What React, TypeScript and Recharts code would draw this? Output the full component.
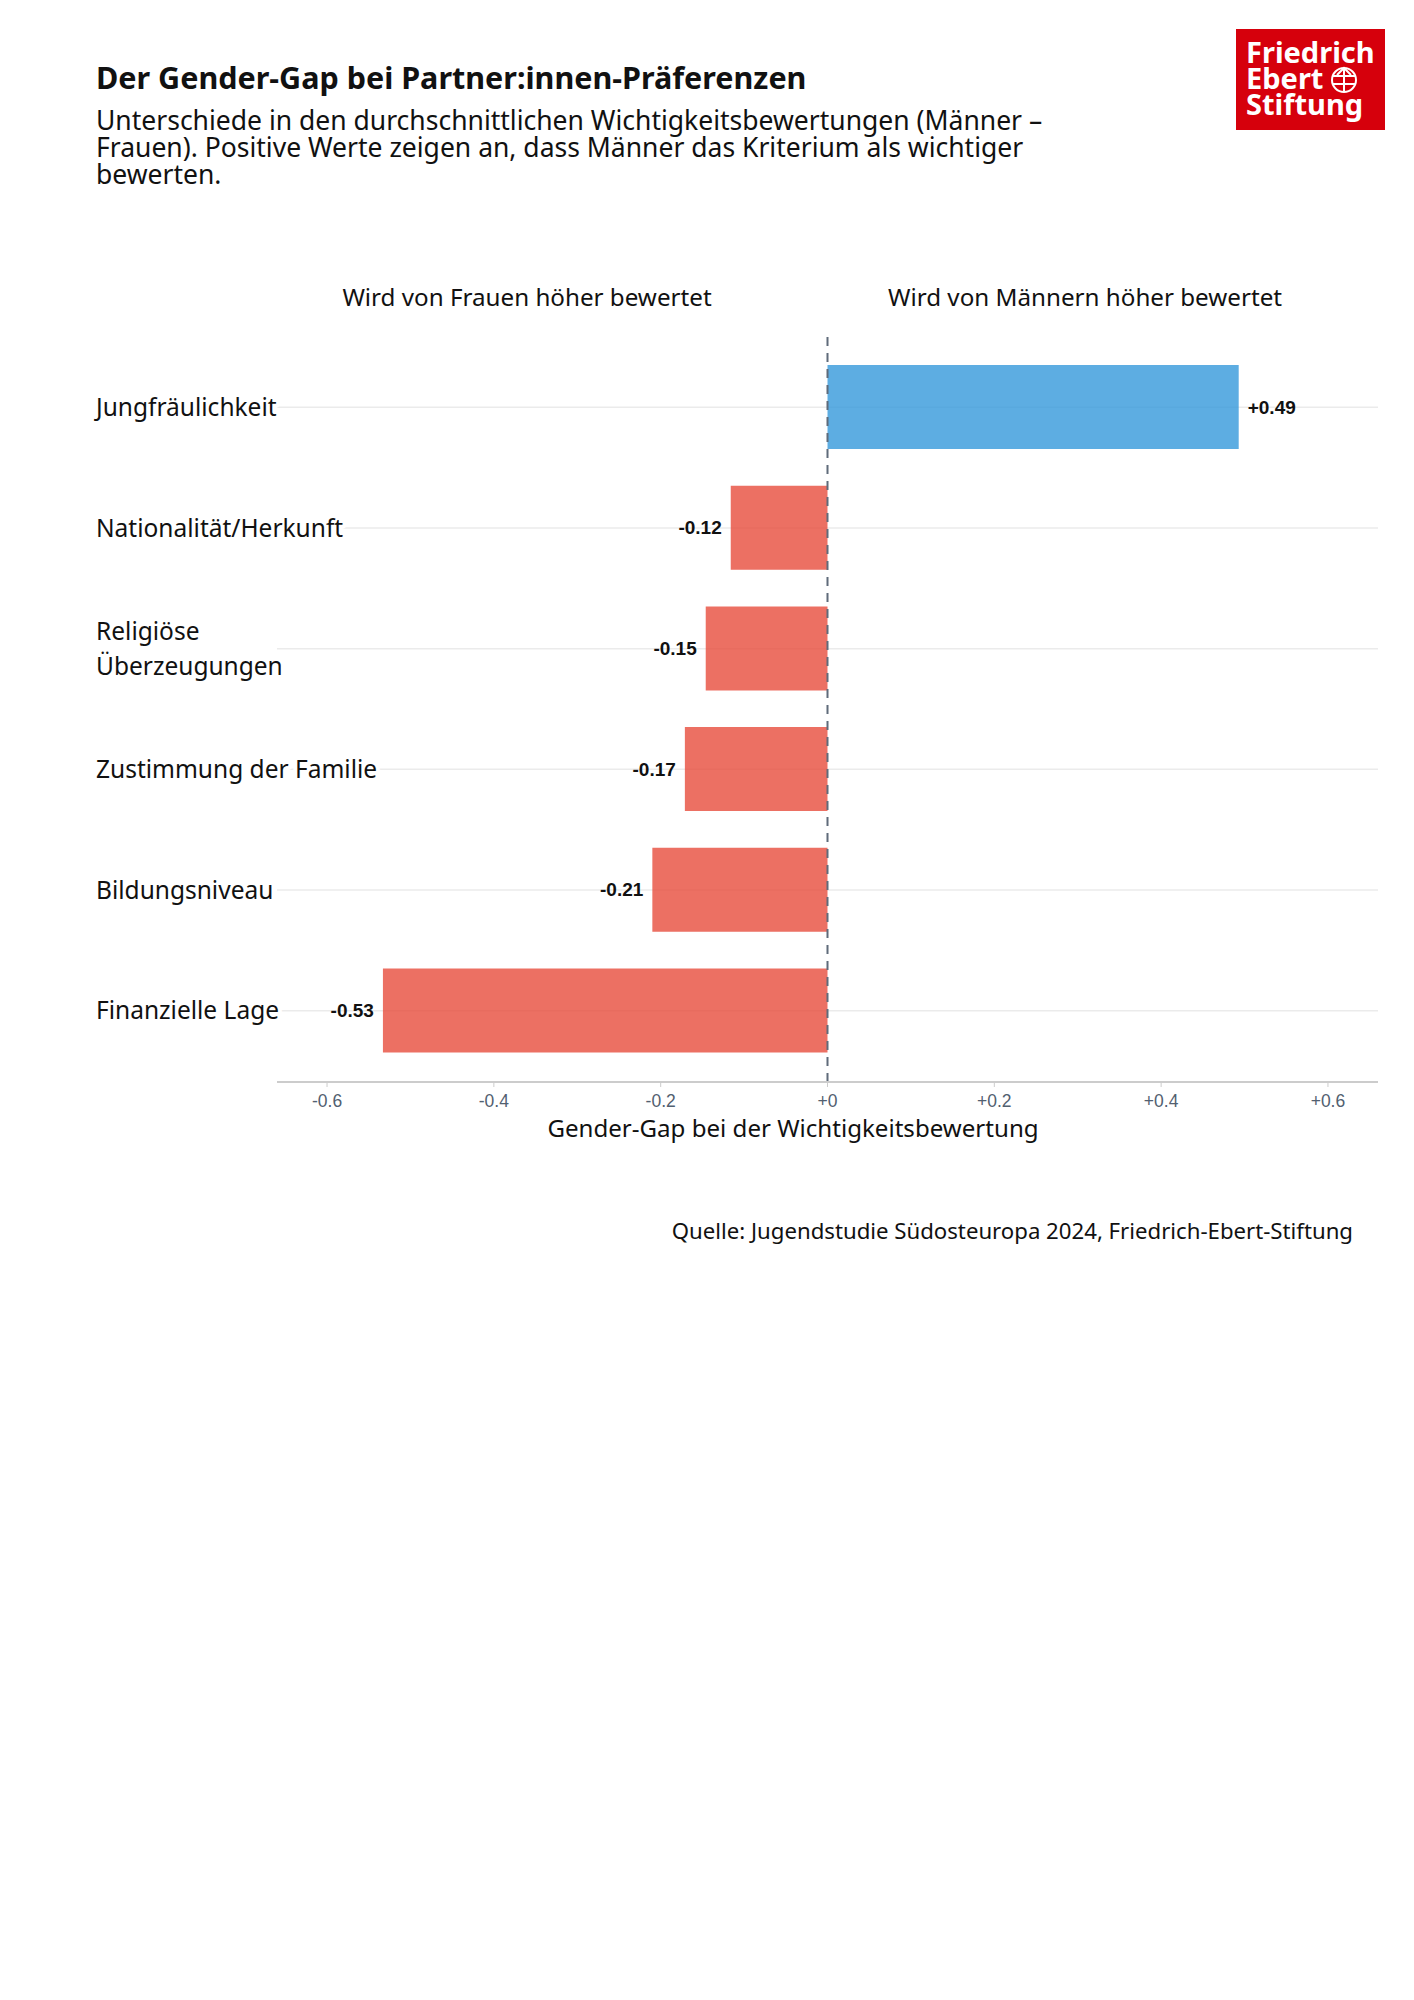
import React from "react";
import { BarChart, Bar, XAxis, YAxis, CartesianGrid, ReferenceLine, Cell, LabelList } from "recharts";

const categories = [
  "Jungfräulichkeit",
  "Nationalität/Herkunft",
  "Religiöse Überzeugungen",
  "Zustimmung der Familie",
  "Bildungsniveau",
  "Finanzielle Lage",
];
// the printed labels are these rounded to two decimals
const gaps = [0.493, -0.116, -0.146, -0.171, -0.21, -0.533];
const xTicks = [-0.6, -0.4, -0.2, 0, 0.2, 0.4, 0.6];

const data = categories.map((name, i) => ({ name, gap: gaps[i] }));

const FONT = "'Noto Sans', 'DejaVu Sans', sans-serif";
const NUM_FONT = "'Liberation Sans', Arial, sans-serif";
const POS = "#3498db";
const NEG = "#e74c3c";

function fmtTick(v: number) {
  if (v === 0) return "+0";
  return v > 0 ? `+${v}` : `${v}`;
}

function fmtValue(v: number) {
  return v > 0 ? `+${v.toFixed(2)}` : v.toFixed(2);
}

function wrapLabel(s: string) {
  if (s.length <= 22) return [s];
  const words = s.split(" ");
  return [words.slice(0, -1).join(" "), words[words.length - 1]];
}

function CategoryTick(props: any) {
  const { y, payload } = props;
  const lines = wrapLabel(String(payload.value));
  const lh = 35;
  const y0 = y - ((lines.length - 1) * lh) / 2;
  return (
    <text
      x={96}
      y={y0}
      fontSize={24.5}
      fontFamily={FONT}
      fill="#111"
      stroke="#fff"
      strokeWidth={8}
      strokeLinejoin="round"
      paintOrder="stroke"
      textAnchor="start"
    >
      {lines.map((l, i) => (
        <tspan key={i} x={96} y={y0 + i * lh} dy="0.35em">
          {l}
        </tspan>
      ))}
    </text>
  );
}

function ValueLabel(props: any) {
  const { x, y, width, height, value } = props;
  const v = Number(value);
  const left = Math.min(x, x + width);
  const right = Math.max(x, x + width);
  const neg = v < 0;
  return (
    <text
      x={neg ? left - 9 : right + 9}
      y={y + height / 2}
      dy="0.35em"
      textAnchor={neg ? "end" : "start"}
      fontFamily={NUM_FONT}
      fontWeight={700}
      fontSize={19}
      fill="#111"
    >
      {fmtValue(v)}
    </text>
  );
}

function Logo() {
  return (
    <div style={{ position: "absolute", left: 1236, top: 29, width: 149, height: 101, background: "#d6000c" }}>
      <div
        style={{
          position: "absolute",
          left: 10,
          top: 10,
          color: "#fff",
          fontFamily: FONT,
          fontWeight: 700,
          fontSize: 29,
          lineHeight: "26px",
          whiteSpace: "nowrap",
        }}
      >
        Friedrich
        <br />
        Ebert
        <br />
        Stiftung
      </div>
      <svg width={149} height={101} style={{ position: "absolute", left: 0, top: 0 }}>
        <g stroke="#fff" strokeWidth={2} fill="none">
          <circle cx={108} cy={51} r={12} />
          <line x1={96} y1={47} x2={120} y2={47} />
          <line x1={97} y1={55} x2={119} y2={55} />
          <line x1={108} y1={39} x2={108} y2={63} />
          <polyline points="101,46 108,39 115,46" />
        </g>
      </svg>
    </div>
  );
}

export default function App() {
  return (
    <div
      style={{
        position: "absolute",
        left: 0,
        top: 0,
        width: 1414,
        height: 2000,
        background: "#fff",
        fontFamily: FONT,
        color: "#111",
      }}
    >
      <div style={{ position: "absolute", left: 96, top: 59, fontSize: 30.5, fontWeight: 700, lineHeight: "36px", whiteSpace: "nowrap" }}>
        Der Gender-Gap bei Partner:innen-Präferenzen
      </div>
      <div style={{ position: "absolute", left: 96, top: 107, fontSize: 26.5, lineHeight: "27px", whiteSpace: "nowrap" }}>
        Unterschiede in den durchschnittlichen Wichtigkeitsbewertungen (Männer –
        <br />
        Frauen). Positive Werte zeigen an, dass Männer das Kriterium als wichtiger
        <br />
        bewerten.
      </div>
      <Logo />

      <BarChart
        width={1414}
        height={1200}
        data={data}
        layout="vertical"
        margin={{ top: 335, right: 36, left: 96, bottom: 78 }}
        barCategoryGap="15%"
        style={{ position: "absolute", left: 0, top: 0 }}
      >
        <CartesianGrid horizontal={true} vertical={false} syncWithTicks stroke="#ebebeb" strokeWidth={1.5} />
        <XAxis
          type="number"
          domain={[-0.66, 0.66]}
          ticks={xTicks}
          allowDataOverflow
          tickFormatter={fmtTick}
          height={40}
          axisLine={{ stroke: "#cccccc", strokeWidth: 2 }}
          tickLine={{ stroke: "#cccccc" }}
          tickSize={5}
          tickMargin={8}
          tick={{ fontSize: 17.5, fill: "#526070", fontFamily: NUM_FONT }}
        />
        <YAxis
          type="category"
          dataKey="name"
          width={181}
          axisLine={false}
          tickLine={false}
          padding={{ top: 12, bottom: 11 }}
          tick={<CategoryTick />}
          interval={0}
        />
        <Bar dataKey="gap" isAnimationActive={false} fillOpacity={0.8}>
          {data.map((d) => (
            <Cell key={d.name} fill={d.gap >= 0 ? POS : NEG} />
          ))}
          <LabelList dataKey="gap" content={<ValueLabel />} />
        </Bar>
        <ReferenceLine x={0} stroke="#5f6b7a" strokeWidth={2} strokeDasharray="9 7" />
      </BarChart>

      <div style={{ position: "absolute", left: 527, top: 296, transform: "translate(-50%, -50%)", fontSize: 24.2, whiteSpace: "nowrap" }}>
        Wird von Frauen höher bewertet
      </div>
      <div style={{ position: "absolute", left: 1085, top: 296, transform: "translate(-50%, -50%)", fontSize: 24.2, whiteSpace: "nowrap" }}>
        Wird von Männern höher bewertet
      </div>
      <div style={{ position: "absolute", left: 793, top: 1127, transform: "translate(-50%, -50%)", fontSize: 24.1, whiteSpace: "nowrap" }}>
        Gender-Gap bei der Wichtigkeitsbewertung
      </div>
      <div style={{ position: "absolute", right: 1414 - 1353, top: 1230, transform: "translateY(-50%)", fontSize: 22.2, whiteSpace: "nowrap" }}>
        Quelle: Jugendstudie Südosteuropa 2024, Friedrich-Ebert-Stiftung
      </div>
    </div>
  );
}
